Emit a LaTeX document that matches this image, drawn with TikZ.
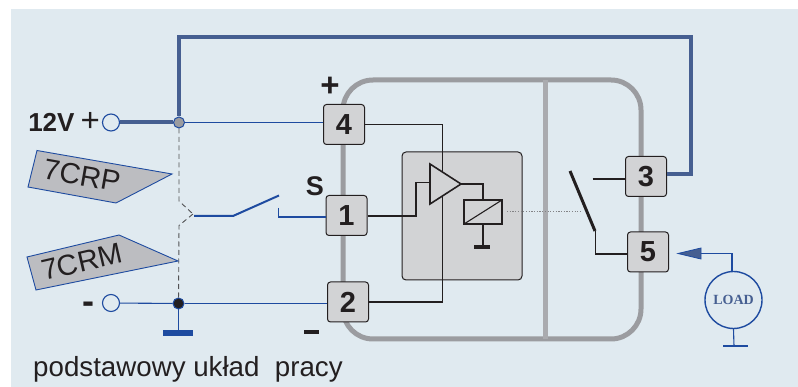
\documentclass[tikz,border=0pt]{standalone}
\usepackage{fontspec}
\setmainfont{Liberation Sans}
\newfontfamily\loadfont{Liberation Serif}
\definecolor{bgc}{RGB}{224,234,240}
\definecolor{wireb}{RGB}{30,75,160}
\definecolor{thickb}{RGB}{70,95,145}
\definecolor{frameg}{RGB}{155,156,160}
\definecolor{divg}{RGB}{170,171,175}
\definecolor{boxg}{RGB}{210,211,213}
\definecolor{tagg}{RGB}{188,189,193}
\definecolor{ink}{RGB}{35,31,32}
\tikzset{
 x=1pt,y=-1pt,
 pin/.style={draw=ink,line width=1pt,fill=boxg,rounded corners=3pt,minimum width=41pt,minimum height=40pt,inner sep=0pt,font=\fontsize{29}{29}\bfseries\selectfont,text=ink},
 terminal/.style={circle,draw=wireb,line width=1.1pt,fill=bgc,minimum size=17pt,inner sep=0pt},
 jointdot/.style={circle,draw=wireb,line width=1pt,minimum size=11pt,inner sep=0pt},
 thinb/.style={draw=wireb,line width=1.1pt},
 thickw/.style={draw=thickb,line width=4pt},
 blk/.style={draw=ink,line width=1.1pt},
 dashw/.style={draw=ink!75!bgc,line width=0.9pt,dash pattern=on 5pt off 3.5pt},
 tag/.style={draw=wireb,line width=0.9pt,fill=tagg},
 tagtext/.style={font=\fontsize{29}{29}\selectfont,text=ink,inner sep=0pt},
 lab/.style={font=\fontsize{27}{27}\bfseries\selectfont,text=ink,inner sep=0pt},
 gndbar/.style={fill=wireb,draw=none},
}
\begin{document}
\begin{tikzpicture}
\useasboundingbox (0,0) rectangle (798,387);
\fill[bgc] (11,9) rectangle (798,387);
% frame
\draw[frameg,line width=5pt,rounded corners=30pt] (343,80) rectangle (641,339);
\draw[divg,line width=5pt] (545.5,80) -- (545.5,339);
% inner block
\draw[ink,line width=1pt,fill=boxg,rounded corners=4pt] (402,152) rectangle (522,280);
% nodes
\node[pin] (p4) at (344,124.5) {4};
\node[pin] (p1) at (346.5,215.5) {1};
\node[pin] (p2) at (348,302) {2};
\node[pin] (p3) at (646,176.5) {3};
\node[pin] (p5) at (648,252) {5};
\node[terminal] (tp) at (111,122.5) {};
\node[terminal] (tm) at (111,303) {};
\node[jointdot,fill=frameg] (jp) at (179,122.5) {};
\node[jointdot,fill=ink] (jm) at (178.5,303.5) {};
\node[circle,draw=wireb,line width=1.4pt,fill=bgc,minimum size=57pt,inner sep=0pt,font=\loadfont\fontsize{14}{14}\bfseries\selectfont,text=thickb] (load) at (733.5,300) {LOAD};
% coordinates
\coordinate (c3) at (691,174);
\coordinate (topr) at (691,37);
\coordinate (topl) at (179,37);
\coordinate (sw0) at (194,216);
\coordinate (sw1) at (233,216);
\coordinate (sw2) at (279,195.5);
\coordinate (ct0) at (278.5,208);
\coordinate (ct1) at (278.5,217);
\coordinate (dk) at (179,201);
\coordinate (dk2) at (193,214);
\coordinate (dk3) at (179,225.5);
\coordinate (gm) at (178.5,333);
% blue wires
\draw[thickw] (tp) -- (jp);
\draw[thickw,line join=miter] (jp) -- (topl) -- (topr) -- (c3) -- (p3.east |- c3);
\draw[thinb] (jp) -- (jp -| p4.west);
\draw[thinb] (jm) -- (jm -| p2.west);
\draw[thinb] (tm) -- (jm);
\draw[thinb] (jm) -- (gm);
\fill[gndbar] (163,330) rectangle (193,336);
\draw[dashw] (jp) -- (dk) -- (dk2);
\draw[dashw] (jm) -- (dk3) -- (dk2);
\draw[wireb,line width=2pt] (sw0) -- (sw1) -- (sw2);
\draw[thinb] (ct0) -- (ct1) -- (ct1 -| p1.west);
% tags
\draw[tag] (37,150.5) -- (172,174) -- (116,203) -- (28,187) -- cycle;
\draw[tag] (27,257) -- (119,235) -- (178,261) -- (36,290) -- cycle;
\node[tagtext,rotate=-10] (t1) at (82,175.5) {7CRP};
\node[tagtext,rotate=13] (t2) at (82,262) {7CRM};
% labels
\node[lab,anchor=east] (l12) at (100,122) {\fontsize{26}{26}\selectfont 12V\hspace{6pt}{\fontsize{33}{33}\mdseries\selectfont +}};
\node[lab] (lp) at (330,87) {\fontsize{33}{33}\selectfont +};
\node[lab] (ls) at (315,186) {S};
\node[lab] (lm) at (88,308) {\fontsize{36}{36}\selectfont -};
\fill[ink] (304,330) rectangle (319,334);
\node[anchor=base west,inner sep=0pt,font=\fontsize{27.7}{27.7}\selectfont,text=ink] (cap) at (33,376.5) {podstawowy układ\ \ pracy};
% internals
\coordinate (a1) at (430,164);
\coordinate (a2) at (430,204);
\coordinate (a3) at (461,184);
\draw[blk] (p4.east |- 0,124.5) -- (442.7,124.5) -- (442.7,172);
\draw[blk] (p2.east) -- (442.7,302) -- (442.7,196);
\draw[blk] (p1.east |- 0,216) -- (416,216) -- (416,182.5) -- (430,182.5);
\draw[ink,line width=1.6pt,line join=miter] (a1) -- (a2) -- (a3) -- cycle;
\draw[blk] (a3) -- (483,184) -- (483,200);
\draw[ink,line width=1.1pt] (464,200) rectangle (502,224);
\draw[blk] (464,224) -- (502,200);
\draw[blk] (483,224) -- (483,247);
\draw[ink,line width=3.4pt] (474,247) -- (490,247);
\draw[frameg!80!ink,line width=1pt,dash pattern=on 1.2pt off 1.5pt] (507,212) -- (581,212);
\draw[ink,line width=3pt] (570,171) -- (595,231);
\draw[blk] (595.5,231) -- (595.5,254) -- (p5.west |- 0,254);
\draw[blk] (592.5,179) -- (p3.west |- 0,179);
% load
\coordinate (ar) at (701,253.5);
\coordinate (ak) at (732,253.5);
\coordinate (g5) at (734,346);
\draw[thinb] (ar) -- (ak) -- (ak |- load.north);
\fill[thickb,draw=wireb,line width=0.8pt,line join=miter] (678,253.5) -- (701,248) -- (701,259) -- cycle;
\draw[thinb] (load.south) -- (g5);
\draw[thinb] (723,346) -- (748,346);
\end{tikzpicture}
\end{document}
